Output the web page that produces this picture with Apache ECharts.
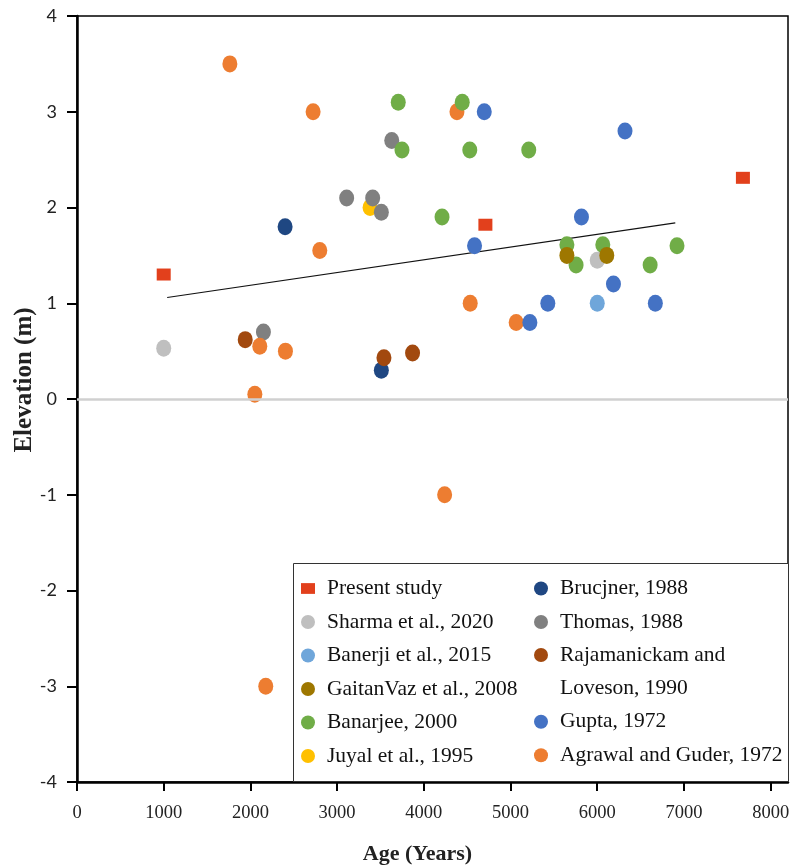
<!DOCTYPE html>
<html>
<head>
<meta charset="utf-8">
<script src="https://cdn.jsdelivr.net/npm/echarts@6/dist/echarts.min.js"></script>
<style>html,body{margin:0;padding:0;background:#fff;}#chart{width:790px;height:866px;}</style>
</head>
<body>
<div id="chart"></div>
<script>
// ---- data (Age in years, Elevation in m) ----
const presentStudy = [[1000, 1.3], [4710, 1.82], [7680, 2.31]];
const sharma2020 = [[1000, 0.53], [6000, 1.45]];
const banerji2015 = [[6000, 1.0]];
const gaitanVaz2008 = [[5650, 1.5], [6110, 1.5]];
const banarjee2000 = [[3705, 3.1], [4443, 3.1], [3748, 2.6], [4530, 2.6], [5210, 2.6], [4210, 1.9],
  [5650, 1.61], [5756, 1.4], [6064, 1.61], [6610, 1.4], [6920, 1.6]];
const juyal1995 = [[3380, 2.0]];
const brucjner1988 = [[2400, 1.8], [3510, 0.3]];
const thomas1988 = [[2150, 0.7], [3110, 2.1], [3410, 2.1], [3510, 1.95], [3630, 2.7]];
const rajamanickam1990 = [[1940, 0.62], [3540, 0.43], [3870, 0.48]];
const gupta1972 = [[4697, 3.0], [6320, 2.8], [5818, 1.9], [4585, 1.6], [6187, 1.2], [5430, 1.0], [6670, 1.0], [5223, 0.8]];
const agrawal1972 = [[1763, 3.5], [2723, 3.0], [2800, 1.55], [2108, 0.55], [2404, 0.5], [2051, 0.05],
  [4382, 3.0], [4535, 1.0], [5065, 0.8], [4240, -1.0], [2177, -3.0]];
const trendLine = [[1040, 1.06], [6900, 1.84]];
const xTicks = { min: 0, max: 8200, interval: 1000 };
const yTicks = { min: -4, max: 4, interval: 1 };

const names = {
  present: 'Present study', sharma: 'Sharma et al., 2020', banerji: 'Banerji et al., 2015',
  gaitan: 'GaitanVaz et al., 2008', banarjee: 'Banarjee, 2000', juyal: 'Juyal et al., 1995',
  brucjner: 'Brucjner, 1988', thomas: 'Thomas, 1988', raja: 'Rajamanickam and\nLoveson, 1990',
  gupta: 'Gupta, 1972', agrawal: 'Agrawal and Guder, 1972'
};

const serif = 'Liberation Serif';
const dot = [15, 17];
function sc(name, data, color, extra) {
  return Object.assign({
    type: 'scatter', name: name, data: data, symbol: 'circle', symbolSize: dot,
    itemStyle: { color: color, opacity: 1 }, emphasis: { disabled: true }
  }, extra || {});
}

function richText(lh) {
  return {
    fontFamily: serif, fontSize: 21.5, color: '#111', lineHeight: lh,
    rich: { t: { fontFamily: serif, fontSize: 21.5, color: '#111', lineHeight: lh, padding: [0, 0, 0, 7] } }
  };
}
const wrap = s => '{t|' + s + '}';
const legendCommon = {
  orient: 'vertical', itemWidth: 14, itemHeight: 14, itemGap: 11.5,
  padding: 0, textStyle: richText(22), selectedMode: false, z: 5,
  formatter: name => name.split('\n').map(wrap).join('\n')
};

const option = {
  backgroundColor: '#fff',
  animation: false,
  grid: { left: 77, right: 2, top: 16, bottom: 84, show: true, borderColor: '#000', borderWidth: 1.5,
    backgroundColor: 'transparent', containLabel: false, outerBoundsMode: 'none' },
  xAxis: {
    type: 'value', min: xTicks.min, max: xTicks.max, interval: xTicks.interval,
    name: 'Age (Years)', nameLocation: 'middle', nameGap: 61, nameMoveOverlap: false,
    nameTextStyle: { fontFamily: serif, fontSize: 22, fontWeight: 'bold', color: '#222', padding: [0, 30, 0, 0] },
    axisLine: { show: true, onZero: false, lineStyle: { color: '#000', width: 2.5 } },
    axisTick: { show: true, length: 9, lineStyle: { color: '#000', width: 2 } },
    axisLabel: { margin: 22, fontFamily: serif, fontSize: 18.5, color: '#222', showMaxLabel: false,
      formatter: v => (v % 1000 === 0 ? String(v) : '') },
    splitLine: { show: false }
  },
  yAxis: {
    type: 'value', min: yTicks.min, max: yTicks.max, interval: yTicks.interval,
    name: 'Elevation (m)', nameLocation: 'middle', nameGap: 40, nameMoveOverlap: false,
    nameTextStyle: { fontFamily: serif, fontSize: 25, fontWeight: 'bold', color: '#222', padding: [0, 0, 0, 38] },
    axisLine: { show: true, onZero: false, lineStyle: { color: '#000', width: 2.5 } },
    axisTick: { show: true, length: 10, lineStyle: { color: '#000', width: 2 } },
    axisLabel: { margin: 20, fontFamily: 'Lato', fontSize: 18, color: '#222' },
    splitLine: { show: false }
  },
  legend: [
    Object.assign({}, legendCommon, { left: 301, top: 577.5,
      data: [{ name: names.present, icon: 'path://M0,0L13,0L13,10L0,10Z' }, names.sharma, names.banerji, names.gaitan, names.banarjee, names.juyal] }),
    Object.assign({}, legendCommon, { left: 534, top: 577.5, data: [names.brucjner, names.thomas] }),
    Object.assign({}, legendCommon, { left: 534, top: 604.75,
      textStyle: richText(33.5),
      formatter: name => wrap(' ') + '\n' + name.split('\n').map(wrap).join('\n'),
      data: [names.raja] }),
    Object.assign({}, legendCommon, { left: 534, top: 710.7, data: [names.gupta, names.agrawal] })
  ],
  graphic: [{
    type: 'rect', z: 3, silent: true,
    shape: { x: 293.5, y: 563.5, width: 495, height: 218 },
    style: { fill: '#fff', stroke: '#333', lineWidth: 1 }
  }],
  series: [
    {
      type: 'line', name: 'trend', data: trendLine, symbol: 'none', silent: true, z: 1,
      lineStyle: { color: '#111', width: 1.2 },
      markLine: { silent: true, symbol: 'none', label: { show: false },
        lineStyle: { color: '#d0d0d0', width: 2.5, type: 'solid' }, data: [{ yAxis: 0 }] }
    },
    sc(names.brucjner, brucjner1988, '#1f4782'),
    sc(names.juyal, juyal1995, '#ffc000'),
    sc(names.thomas, thomas1988, '#808080'),
    sc(names.raja, rajamanickam1990, '#a2490f'),
    sc(names.agrawal, agrawal1972, '#ed7d31'),
    sc(names.gupta, gupta1972, '#4472c4'),
    sc(names.banarjee, banarjee2000, '#70ad47'),
    sc(names.sharma, sharma2020, '#bfbfbf'),
    sc(names.gaitan, gaitanVaz2008, '#9e7700'),
    sc(names.banerji, banerji2015, '#6fa6da'),
    sc(names.present, presentStudy, '#e2401c', { symbol: 'rect', symbolSize: [14, 12] })
  ]
};

const chart = echarts.init(document.getElementById('chart'), null, { renderer: 'canvas' });
chart.setOption(option);
</script>
</body>
</html>
